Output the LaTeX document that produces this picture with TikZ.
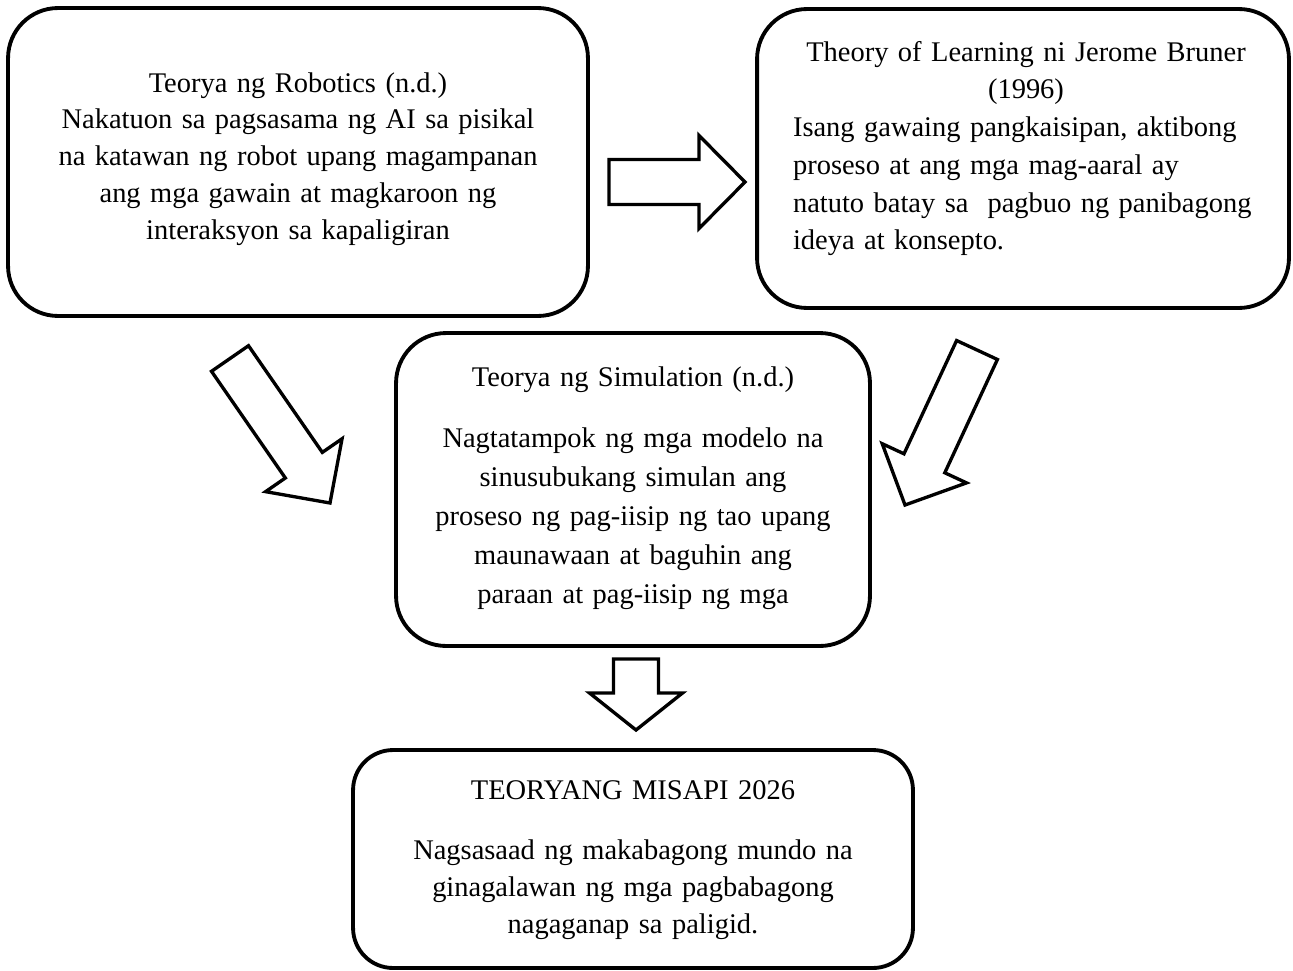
\documentclass[tikz,border=0pt]{standalone}
\usepackage{fontspec}
\setmainfont{Liberation Serif}
\usetikzlibrary{calc}
\setlength{\parindent}{0pt}

% hollow block arrow from #2 (tail) to #3 (tip), #1 = head length
\newcommand{\blockarrow}[3][0.92cm]{%
  \coordinate (hb) at ($(#3)!#1!(#2)$);
  \draw[blockarr] ($(#2)!0.45cm!90:(#3)$) -- ($(hb)!0.45cm!90:(#3)$) -- ($(hb)!0.93cm!90:(#3)$) -- (#3)
    -- ($(hb)!0.93cm!-90:(#3)$) -- ($(hb)!0.45cm!-90:(#3)$) -- ($(#2)!0.45cm!-90:(#3)$) -- cycle;}

\begin{document}
\begin{tikzpicture}[x=0.02cm, y=-0.02cm,
    box/.style={draw, line width=2.2pt, rounded corners=1cm, inner sep=0pt},
    boxtext/.style={anchor=base, inner sep=0pt, font=\fontsize{16.2}{21}\selectfont},
    blockarr/.style={draw, fill=white, line width=1.9pt}]
\useasboundingbox (0,0) rectangle (1293,970);

% the four boxes
\node[box, minimum width=11.6cm, minimum height=6.16cm] (robotics) at (298,162) {};
\node[box, minimum width=10.64cm, minimum height=5.98cm] (bruner) at (1023,158.5) {};
\node[box, minimum width=9.48cm, minimum height=6.26cm] (simulation) at (633,489.5) {};
\node[box, minimum width=11.2cm, minimum height=4.36cm, rounded corners=0.8cm] (misapi) at (633,859) {};

% texts
\node[boxtext, text width=11cm, align=center] (robotics-txt) at (298,92)
  {Teorya ng Robotics (n.d.)\\ Nakatuon sa pagsasama ng AI sa pisikal\\ na katawan ng robot upang magampanan\\
   ang mga gawain at magkaroon ng\\ interaksyon sa kapaligiran};
\node[boxtext, text width=9.32cm, font=\fontsize{16.2}{21.5}\selectfont] (bruner-txt) at (1026,61)
  {\centering Theory of Learning ni Jerome Bruner\\ (1996)\par
   \raggedright Isang gawaing pangkaisipan, aktibong\\ proseso at ang mga mag-aaral ay\\
   natuto batay sa\ \ pagbuo ng panibagong\\ ideya at konsepto.};
\node[boxtext, text width=9cm, align=center, font=\fontsize{16.2}{22.2}\selectfont] (simulation-txt) at (633,386)
  {Teorya ng Simulation (n.d.)\\[0.45cm] Nagtatampok ng mga modelo na\\ sinusubukang simulan ang\\
   proseso ng pag-iisip ng tao upang\\ maunawaan at baguhin ang\\ paraan at pag-iisip ng mga};
\node[boxtext, text width=10.5cm, align=center] (misapi-txt) at (633,799)
  {TEORYANG MISAPI 2026\\[0.48cm] Nagsasaad ng makabagong mundo na\\ ginagalawan ng mga pagbabagong\\
   nagaganap sa paligid.};

% arrows between the boxes
\coordinate (right-s) at (609,182);  \coordinate (right-e) at (745,182);
\coordinate (left-s) at (230,358.5); \coordinate (left-e) at (330,503);
\coordinate (diag-s) at (977,350);   \coordinate (diag-e) at (905,505);
\coordinate (down-s) at (636,659);   \coordinate (down-e) at (636,730);
\blockarrow{right-s}{right-e}
\blockarrow{left-s}{left-e}
\blockarrow{diag-s}{diag-e}
\blockarrow[0.74cm]{down-s}{down-e}
\end{tikzpicture}
\end{document}
